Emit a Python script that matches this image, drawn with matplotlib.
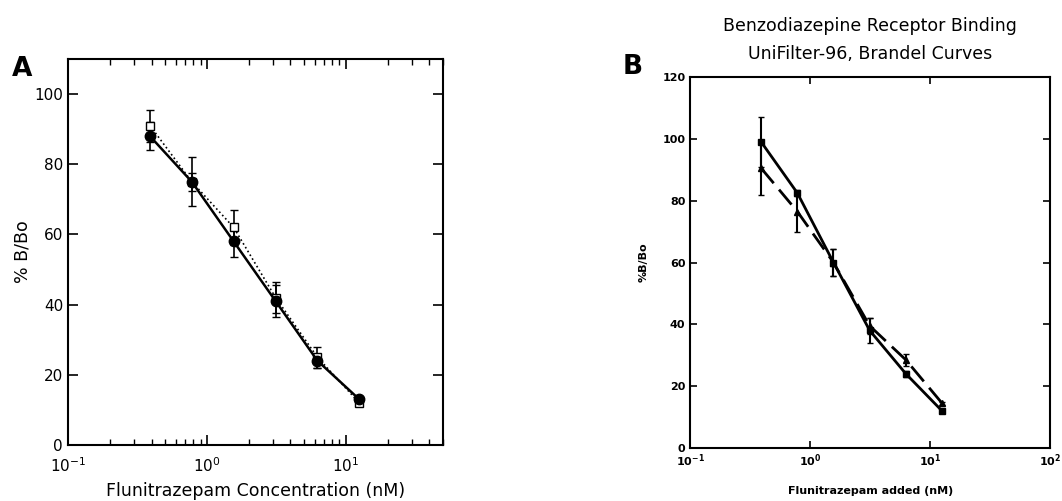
import matplotlib
matplotlib.use("Agg")
import matplotlib.pyplot as plt
from matplotlib.ticker import LogLocator, NullFormatter, MultipleLocator

conc = [0.39, 0.78, 1.56, 3.125, 6.25, 12.5]

# panel A
a_circle = [88, 75, 58, 41, 24, 13]
a_circle_err = [4, 2.5, 4.5, 4.5, 2, 0.5]
a_square = [91, 75, 62, 42, 25, 12]
a_square_err = [4.5, 7, 5, 4.5, 3, 0.5]

# panel B
b_square = [99, 82.5, 60, 38, 24, 12]
b_square_err = [8, 1, 4.5, 4, 1, 0.5]
b_tri = [90.5, 76.5, 60, 39.5, 28.5, 14.5]
b_tri_err = [8.5, 6.5, 4.5, 2.5, 2, 0.5]

fig = plt.figure(figsize=(10.62, 5.01), dpi=100)
plt.rcParams["font.family"] = "DejaVu Sans"

# ---- A ----
axA = fig.add_axes([0.064, 0.112, 0.353, 0.770])
axA.errorbar(conc, a_square, yerr=a_square_err, color="black", ls=":", lw=1.2,
             marker="s", mfc="white", mec="black", ms=5.5, capsize=3, elinewidth=1.2)
axA.errorbar(conc, a_circle, yerr=a_circle_err, color="black", ls="-", lw=1.8,
             marker="o", mfc="black", ms=7.5, capsize=3, elinewidth=1.2)
axA.set_xscale("log")
axA.set_xlim(0.1, 50)
axA.set_ylim(0, 110)
axA.set_xticks([0.1, 1, 10])
axA.xaxis.set_minor_locator(LogLocator(base=10, subs=range(2, 10)))
axA.xaxis.set_minor_formatter(NullFormatter())
axA.yaxis.set_major_locator(MultipleLocator(20))
axA.tick_params(which="both", direction="in", top=True, right=True, labelsize=11)
axA.tick_params(which="major", length=7, width=1.2)
axA.tick_params(which="minor", length=4, width=1)
axA.tick_params(axis="x", which="major", pad=8)
for s in axA.spines.values():
    s.set_linewidth(1.5)
axA.set_xlabel("Flunitrazepam Concentration (nM)", fontsize=12.5, labelpad=5)
axA.set_ylabel("% B/Bo", fontsize=12.5, labelpad=2)
fig.text(0.011, 0.848, "A", fontsize=19, fontweight="bold")

# ---- B ----
axB = fig.add_axes([0.650, 0.106, 0.339, 0.740])
axB.errorbar(conc, b_square, yerr=b_square_err, color="black", ls="-", lw=2,
             marker="s", mfc="black", ms=4.5, capsize=2.5, elinewidth=1.5)
axB.errorbar(conc, b_tri, yerr=b_tri_err, color="black", ls=(0, (7, 3)), lw=2,
             marker="^", mfc="black", ms=5, capsize=2.5, elinewidth=1.5)
axB.set_xscale("log")
axB.set_xlim(0.1, 100)
axB.set_ylim(0, 120)
axB.set_xticks([0.1, 1, 10, 100])
axB.xaxis.set_minor_locator(plt.NullLocator())
axB.yaxis.set_major_locator(MultipleLocator(20))
axB.tick_params(which="both", direction="in", top=True, right=True, labelsize=8,
                length=5, width=1.2)
for lab in axB.get_xticklabels() + axB.get_yticklabels():
    lab.set_fontweight("bold")
for s in axB.spines.values():
    s.set_linewidth(1.5)
axB.set_xlabel("Flunitrazepam added (nM)", fontsize=8, fontweight="bold", labelpad=12)
axB.set_ylabel("%B/Bo", fontsize=8, fontweight="bold", labelpad=10)
axB.set_title("Benzodiazepine Receptor Binding\nUniFilter-96, Brandel Curves",
              fontsize=12.5, linespacing=1.75, pad=13)
fig.text(0.586, 0.852, "B", fontsize=19, fontweight="bold")

fig.savefig("out.png", dpi=100)
